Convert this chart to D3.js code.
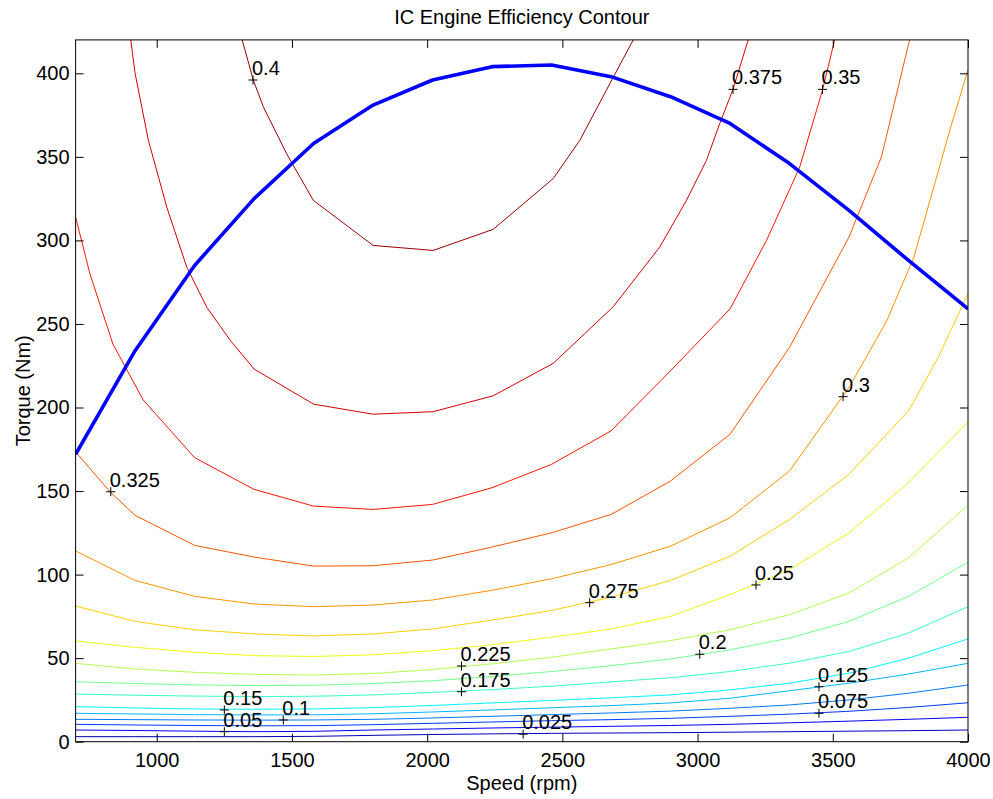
<!DOCTYPE html>
<html><head><meta charset="utf-8">
<script src="https://cdn.jsdelivr.net/npm/d3@7"></script>
<style>
body{margin:0;background:#fff}
text{font-family:"Liberation Sans",Arial,Helvetica,sans-serif;fill:#000}
</style>
</head><body><svg id="chart" width="993" height="799"></svg>
<script>
// ---------- data ----------
const title = "IC Engine Efficiency Contour";
const xLabel = "Speed (rpm)";
const yLabel = "Torque (Nm)";
const xTicks = [1000,1500,2000,2500,3000,3500,4000];
const yTicks = [0,50,100,150,200,250,300,350,400];
const levels = [0.025,0.05,0.075,0.1,0.125,0.15,0.175,0.2,0.225,0.25,0.275,0.3,0.325,0.35,0.375,0.4];

const speedGrid = [700,920,1140,1360,1580,1800,2020,2240,2460,2680,2900,3120,3340,3560,3780,4000];
// lower efficiency contours: torque (Nm) at each speedGrid value
const torque025 = [3,3,3,3,3.2,3.8,4.3,4.7,5,5.2,5.4,5.7,6,6.3,6.6,7];
const torque050 = [7,6.7,6.3,6,6.2,7,7.6,8.2,8.7,9.2,9.7,10.4,11.3,12.3,13.4,14.6];
const torque075 = [10.4,10,9.7,9.5,9.6,10.2,11,11.8,12.6,13.2,14,15.2,16.5,18.2,20.5,23.3];
const torque100 = [13.4,13.2,13,12.9,13,13.4,14.2,15.2,16.2,17.2,18.3,20,22,25,29,33.9];
const torque125 = [17,16.6,16.2,16,16.1,16.7,17.8,19,20.3,21.6,23.2,26,30.5,35,40.5,46.9];
const torque150 = [21,20.2,19.6,19.4,19.6,20.4,21.7,23.2,24.7,26.3,28,31,35,41,50,61.5];
const torque175 = [28.5,27.8,27.3,27,27.2,28,29.5,31.2,33.2,35.8,38.3,42,47,54,65,80.8];
const torque200 = [35.9,34.8,34,33.6,33.8,34.8,36.5,39,42,45.5,49.5,55,62,72,87,107.4];
const torque225 = [46.9,43.5,41.5,40.3,39.9,40.8,43.2,46.6,50.5,55.5,60.5,67,76,89,110,141.6];
const torque250 = [60.3,56.5,53.5,51.5,51,52,54.5,58,62.5,67.5,75,88,103,125,155,191.5];
// upper efficiency contours: [speed, torque]
const contour275 = [[700,81.2],[920,72],[1140,67],[1360,64.5],[1580,63.3],[1800,64.5],[2020,67.5],[2240,72.8],[2460,78.5],[2680,86.5],[2900,96.5],[3120,111],[3340,133],[3560,160],[3780,198],[3890,230],[4000,268.3]];
const contour300 = [[700,114.1],[920,96.5],[1140,87],[1360,82.4],[1580,80.8],[1800,81.8],[2020,84.8],[2240,90.6],[2460,97.5],[2680,106],[2900,117],[3120,134],[3340,162],[3560,212],[3700,252],[3800,290],[3940,370],[4000,402]];
const contour325 = [[700,173.5],[827,149.6],[920,135.5],[1140,117.5],[1360,110.5],[1580,105.1],[1800,105.3],[2020,108.7],[2240,116.5],[2460,125],[2680,136],[2900,156],[3120,184],[3340,236],[3560,302],[3680,350],[3784,420],[3790,426]];
const contour350 = [[700,314],[753,280],[838,238],[950,204.5],[1140,170],[1360,151],[1580,141],[1800,139],[2020,142],[2240,152],[2460,166],[2680,186],[2900,222],[3120,259],[3255,300],[3378,344],[3462,390],[3507,420],[3512,426]];
const contour375 = [[902,426],[904,420],[920,400],[969,360],[1037,320],[1111,284],[1185,260],[1271,240.4],[1360,223],[1580,202],[1800,196],[2022,197.5],[2244,207],[2466,226.4],[2688,260.3],[2860,296],[2959,324],[3033,348],[3082,370],[3131,390.4],[3187,420],[3190,426]];
const contour400 = [[1312,426],[1316,420],[1357,396],[1394,380],[1480,352],[1579,324],[1800,297],[2022,294],[2244,306.6],[2466,337],[2565,360],[2663,390],[2762,420],[2765,426]];

// maximum torque curve
const maxTorqueSpeed = [700,920,1140,1360,1580,1800,2020,2240,2460,2680,2900,3120,3340,3560,3780,4000];
const maxTorque = [172,234,285,325,358,381,396,404,405,398,386,370,346,318,288,259];

// contour labels
const labelLevels = [0.4,0.375,0.35,0.325,0.3,0.275,0.25,0.225,0.2,0.175,0.15,0.125,0.1,0.075,0.05,0.025];
const labelSpeed  = [1356,3131,3462,830,3538,2601,3216,2127,3008,2127,1250,3449,1468,3449,1250,2355];
const labelTorque = [396,390.4,390.4,149.6,206.5,83.2,93.8,45.3,52.3,29.9,19,32.9,13,17,6,4.5];

// ---------- build ----------
const gridContours = [torque025,torque050,torque075,torque100,torque125,torque150,torque175,torque200,torque225,torque250]
  .map(arr => speedGrid.map((s,i) => [s, arr[i]]));
const contours = gridContours.concat([contour275,contour300,contour325,contour350,contour375,contour400]);

function jet(t){
  const c = v => Math.max(0, Math.min(1, v));
  const r = c(1.5 - Math.abs(4*t - 3));
  const g = c(1.5 - Math.abs(4*t - 2));
  const b = c(1.5 - Math.abs(4*t - 1));
  return d3.rgb(r*255, g*255, b*255).formatHex();
}
const colorOf = lv => jet(lv / 0.41);

const svg = d3.select("#chart");
svg.append("rect").attr("width",993).attr("height",799).attr("fill","#fff");

const L = 75.6, R = 968, T = 39.9, B = 741.7;
const x = d3.scaleLinear().domain([700,4000]).range([L,R]);
const y = d3.scaleLinear().domain([0,420]).range([B,T]);

svg.append("defs").append("clipPath").attr("id","plotclip")
  .append("rect").attr("x",L).attr("y",T).attr("width",R-L).attr("height",B-T);

const plot = svg.append("g").attr("clip-path","url(#plotclip)");
const line = d3.line().x(d => x(d[0])).y(d => y(d[1]));

plot.selectAll("path.contour").data(contours).enter().append("path")
  .attr("class","contour")
  .attr("d", line)
  .attr("fill","none")
  .attr("stroke",(d,i) => colorOf(levels[i]))
  .attr("stroke-width",1);

plot.append("path")
  .attr("d", line(maxTorqueSpeed.map((s,i) => [s, maxTorque[i]])))
  .attr("fill","none").attr("stroke","#0000ff").attr("stroke-width",3.6)
  .attr("stroke-linejoin","round");

// labels with + markers
const lab = svg.append("g");
labelLevels.forEach((lv,i) => {
  const cx = x(labelSpeed[i]), cy = y(labelTorque[i]);
  lab.append("line").attr("x1",cx-4.5).attr("x2",cx+4.5).attr("y1",cy).attr("y2",cy).attr("stroke","#000").attr("stroke-width",1);
  lab.append("line").attr("x1",cx).attr("x2",cx).attr("y1",cy-4.5).attr("y2",cy+4.5).attr("stroke","#000").attr("stroke-width",1);
  lab.append("text").attr("x",cx-1).attr("y",cy-5).attr("font-size",20).text(String(lv));
});

// axes
const fs = 20;
const fmt = d3.format("d");
const xAxis = svg.append("g").attr("transform",`translate(0,${B})`)
  .call(d3.axisBottom(x).tickValues(xTicks).tickFormat(fmt).tickSizeInner(-8).tickSizeOuter(0).tickPadding(11));
const xTop = svg.append("g").attr("transform",`translate(0,${T})`)
  .call(d3.axisTop(x).tickValues(xTicks).tickSizeInner(-8).tickSizeOuter(0).tickFormat(""));
const yAxis = svg.append("g").attr("transform",`translate(${L},0)`)
  .call(d3.axisLeft(y).tickValues(yTicks).tickFormat(fmt).tickSizeInner(-8).tickSizeOuter(0).tickPadding(6));
const yRight = svg.append("g").attr("transform",`translate(${R},0)`)
  .call(d3.axisRight(y).tickValues(yTicks).tickSizeInner(-8).tickSizeOuter(0).tickFormat(""));
[xAxis,xTop,yAxis,yRight].forEach(g => {
  g.select(".domain").remove();
  g.selectAll(".tick line").attr("stroke","#000");
  g.selectAll(".tick text").attr("font-size",fs).attr("font-family",'"Liberation Sans",Arial,sans-serif').attr("fill","#000");
});

svg.append("rect").attr("x",L).attr("y",T).attr("width",R-L).attr("height",B-T)
  .attr("fill","none").attr("stroke","#000").attr("stroke-width",1);

svg.append("text").attr("x",(L+R)/2).attr("y",24).attr("text-anchor","middle").attr("font-size",20).text(title);
svg.append("text").attr("x",(L+R)/2).attr("y",790).attr("text-anchor","middle").attr("font-size",20).text(xLabel);
svg.append("text").attr("transform",`translate(30,${(T+B)/2}) rotate(-90)`).attr("text-anchor","middle").attr("font-size",20).text(yLabel);
</script>
</body></html>
